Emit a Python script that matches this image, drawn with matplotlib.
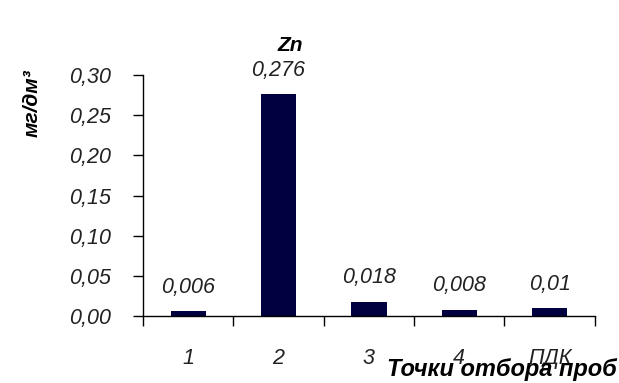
import numpy as np
import matplotlib
matplotlib.use("Agg")
import matplotlib.pyplot as plt

plt.rcParams['font.family'] = ['Liberation Sans', 'DejaVu Sans']

# Zn concentration at sampling points, mg/dm3
points = ['1', '2', '3', '4', 'ПДК']
zn = [0.006, 0.276, 0.018, 0.008, 0.01]
zn_labels = ['0,006', '0,276', '0,018', '0,008', '0,01']
yticks = [0.00, 0.05, 0.10, 0.15, 0.20, 0.25, 0.30]

fig = plt.figure(figsize=(6.19, 3.83), dpi=100)
ax = fig.add_axes([0.231, 0.175, 0.730, 0.629])

x = np.arange(len(points))
ax.bar(x, zn, width=0.39, color='#000040')

for xi, v, s in zip(x, zn, zn_labels):
    ax.annotate(s, (xi, v), xytext=(0, 17), textcoords='offset points',
                ha='center', va='center', fontsize=15.5, style='italic', color='#222222')

ax.set_xlim(-0.5, len(points) - 0.5)
ax.set_ylim(0, 0.30)

# category labels in the middle, ticks on the boundaries
ax.set_xticks(x)
ax.set_xticklabels(points, fontsize=15.5, style='italic', color='#222222')
ax.tick_params(axis='x', which='major', length=0, pad=23)
ax.set_xticks(np.arange(-0.5, len(points)), minor=True)
ax.tick_params(axis='x', which='minor', length=7, width=1, direction='out')

ax.set_yticks(yticks)
ax.set_yticklabels([f'{t:.2f}'.replace('.', ',') for t in yticks],
                   fontsize=15.5, style='italic', color='#222222')
ax.tick_params(axis='y', length=7, width=1, direction='out', pad=16)

for side in ['top', 'right']:
    ax.spines[side].set_visible(False)
for side in ['left', 'bottom']:
    ax.spines[side].set_linewidth(1)

fig.text(0.469, 0.882, 'Zn', ha='center', va='center', fontsize=15,
         weight='bold', style='italic')
fig.text(0.052, 0.73, 'мг/дм³', ha='center', va='center', rotation=90,
         fontsize=15, weight='bold', style='italic')
fig.text(0.997, 0.035, 'Точки отбора проб', ha='right', va='center',
         fontsize=17, weight='bold', style='italic')

fig.savefig('out.png', dpi=100)
